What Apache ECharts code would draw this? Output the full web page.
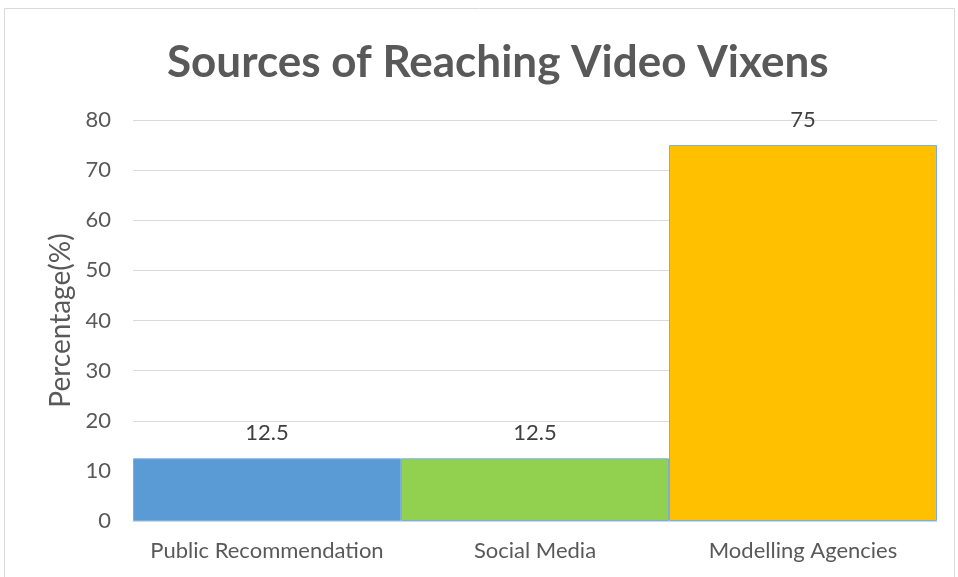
<!DOCTYPE html>
<html>
<head>
<meta charset="utf-8">
<script src="https://cdn.jsdelivr.net/npm/echarts@6/dist/echarts.min.js"></script>
<style>
  html, body { margin: 0; padding: 0; background: #fff; }
  #chart { width: 958px; height: 577px; }
</style>
</head>
<body>
<div id="chart"></div>
<script>
const categories = ['Public Recommendation', 'Social Media', 'Modelling Agencies'];
const values = [12.5, 12.5, 75];
const barColors = ['#5B9BD5', '#92D050', '#FFC000'];
const yTicks = [0, 10, 20, 30, 40, 50, 60, 70, 80];

const chart = echarts.init(document.getElementById('chart'));
const font = 'Lato, "Open Sans", sans-serif';

chart.setOption({
  backgroundColor: '#ffffff',
  animation: false,
  title: {
    text: 'Sources of Reaching Video Vixens',
    left: 162,
    top: 36,
    textStyle: { fontFamily: font, fontSize: 44, fontWeight: 'bold', color: '#595959' }
  },
  graphic: [{
    type: 'rect',
    shape: { x: 4.5, y: 8.5, width: 950, height: 580 },
    style: { fill: 'none', stroke: '#d9d9d9', lineWidth: 1 },
    silent: true
  }],
  grid: { left: 133, right: 21, top: 120, bottom: 56 },
  xAxis: {
    type: 'category',
    data: categories,
    axisTick: { show: false },
    axisLine: { show: true, lineStyle: { color: '#d0d7e1', width: 1 } },
    axisLabel: {
      interval: 0,
      hideOverlap: false,
      fontFamily: font,
      fontSize: 22,
      color: '#595959',
      margin: 19
    }
  },
  yAxis: {
    type: 'value',
    min: yTicks[0],
    max: yTicks[yTicks.length - 1],
    interval: 10,
    name: 'Percentage(%)',
    nameLocation: 'middle',
    nameGap: 54,
    nameTextStyle: { fontFamily: font, fontSize: 28, color: '#595959' },
    axisLine: { show: false },
    axisTick: { show: false },
    axisLabel: { fontFamily: font, fontSize: 22, color: '#595959', margin: 22 },
    splitLine: { lineStyle: { color: '#d9d9d9', width: 1 } }
  },
  series: [{
    type: 'bar',
    barCategoryGap: 0,
    data: values.map((v, i) => ({
      value: v,
      itemStyle: { color: barColors[i], borderColor: '#7aaee0', borderWidth: 1 }
    })),
    label: {
      show: true,
      position: 'top',
      distance: 14,
      fontFamily: font,
      fontSize: 22,
      color: '#404040'
    }
  }]
});
</script>
</body>
</html>
